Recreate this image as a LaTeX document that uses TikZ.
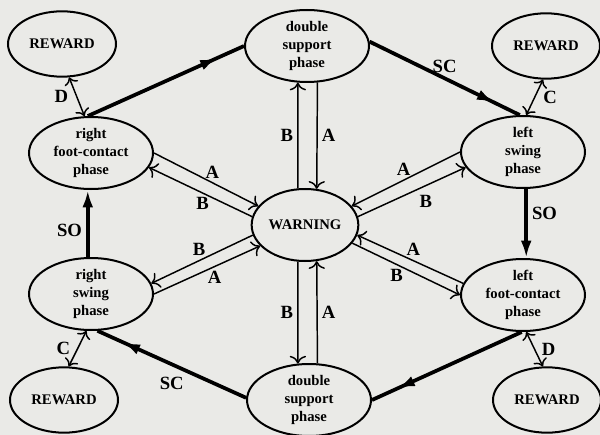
\documentclass[tikz,border=0pt]{standalone}
\usepackage{fontspec}
\setmainfont{Liberation Serif}
\usepackage{tikz}
\usetikzlibrary{shapes.geometric}
\usetikzlibrary{arrows.meta}
\usetikzlibrary{decorations.markings}

\definecolor{paper}{RGB}{234,234,231}
\newcommand{\statefont}{\fontsize{11}{13.5}\selectfont\bfseries}
\newcommand{\edgefont}{\fontsize{14}{16}\selectfont\bfseries}

\tikzset{
  phase/.style={ellipse, draw, line width=1.5pt, fill=paper, inner sep=0pt,
    minimum width=93pt, minimum height=54pt, align=center, font=\statefont},
  reward/.style={phase, minimum width=81pt, minimum height=49pt},
  lbl/.style={font=\edgefont, inner sep=3pt},
  flow/.style={line width=1.1pt, -{To[scale=1.45]}},
  twoway/.style={line width=1.1pt, {To[scale=1.3]}-{To[scale=1.3]}},
  heavy/.style={line width=2.8pt, postaction={decorate},
    decoration={markings, mark=at position #1 with {\arrow{Latex[length=13pt,width=8pt]}}}},
  heavy/.default=0.83
}

\begin{document}
\begin{tikzpicture}[x=0.75pt, y=-0.75pt]
\fill[paper] (0,0) rectangle (600,435);
\useasboundingbox (0,0) rectangle (600,435);

\node[reward] (rewTL) at (62,44) {REWARD};
\node[phase] (dsTop) at (307,46) {double\\support\\phase};
\node[reward] (rewTR) at (546,46) {REWARD};
\node[phase] (rfc) at (91,153) {right\\foot-contact\\phase};
\node[phase] (lsw) at (523,152) {left\\swing\\phase};
\node[phase, minimum width=80pt] (warn) at (305,225) {WARNING};
\node[phase] (rsw) at (91,294) {right\\swing\\phase};
\node[phase] (lfc) at (523,295) {left\\foot-contact\\phase};
\node[reward] (rewBL) at (64,400) {REWARD};
\node[phase] (dsBot) at (309,400) {double\\support\\phase};
\node[reward] (rewBR) at (547,400) {REWARD};

\draw[heavy] (rfc.95) -- (dsTop.180);
\draw[heavy] (dsTop.4) -- node[lbl, above] {SC} (lsw.95);
\draw[heavy] (lfc.-92) -- (dsBot.0);
\draw[heavy] (dsBot.178) -- node[lbl, below=5pt] {SC} (rsw.-80);
\draw[line width=2.8pt, -{Latex[length=13pt,width=8pt]}]
  (rsw.95) -- node[lbl, left, pos=.4] {SO} (rfc.-95);
\draw[line width=2.8pt, -{Latex[length=13pt,width=8pt]}]
  (lsw.-85) -- node[lbl, right, pos=.36] {SO} (lfc.85);

\path[twoway]
(rewTL.-78) edge node[lbl, left=3pt] {D} (rfc.100)
(rewTR.-95) edge node[lbl, right=3pt] {C} (lsw.85)
(rsw.-97) edge node[lbl, left=2pt] {C} (rewBL.82)
(lfc.-85) edge node[lbl, right=2pt] {D} (rewBR.97);

\path[flow]
(warn.101) edge node[lbl, left] {B} (dsTop.-104)
(dsTop.-74) edge node[lbl, right] {A} (warn.72)
(warn.-101) edge node[lbl, left] {B} (dsBot.107)
(dsBot.77) edge node[lbl, right] {A} (warn.-72)
(rfc.0) edge node[lbl, above, pos=.56] {A} (warn.158)
(warn.171) edge node[lbl, below, pos=.48] {B} (rfc.-14)
(warn.-169) edge node[lbl, above, pos=.53] {B} (rsw.10)
(rsw.0) edge node[lbl, below, pos=.57] {A} (warn.-155)
(lsw.180) edge node[lbl, above, pos=.52] {A} (warn.22)
(warn.9) edge node[lbl, below=4pt, pos=.63] {B} (lsw.-165)
(lfc.169) edge node[lbl, above, pos=.47] {A} (warn.-11)
(warn.-21) edge node[lbl, below, pos=.41] {B} (lfc.180);
\end{tikzpicture}
\end{document}
